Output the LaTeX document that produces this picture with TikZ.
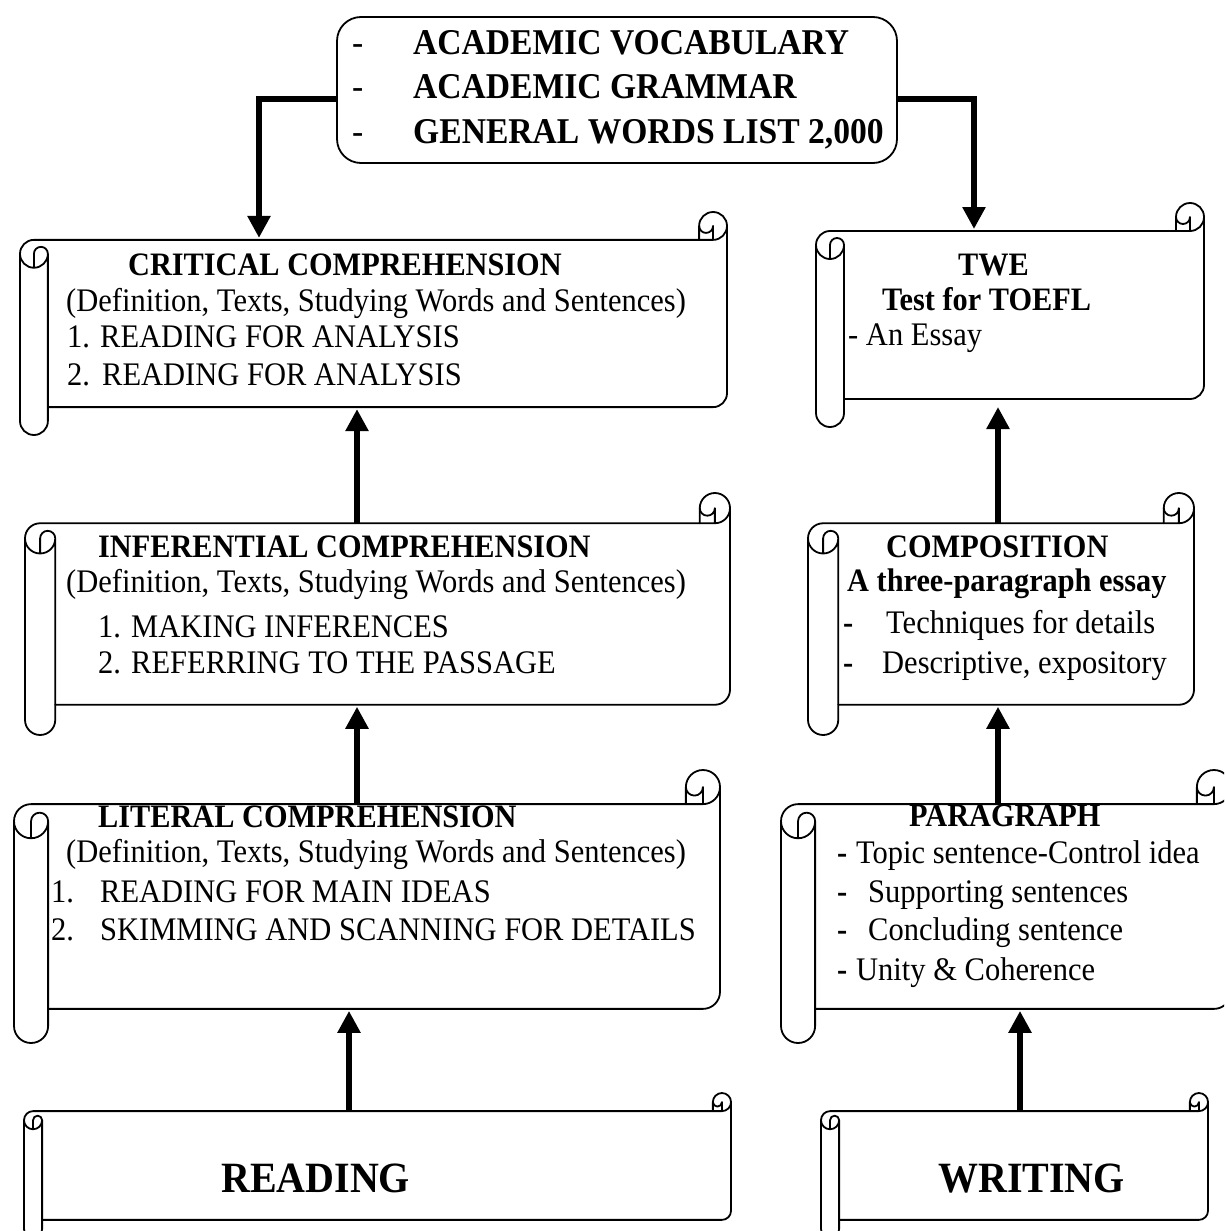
\documentclass[tikz,border=0pt]{standalone}
\usepackage{fontspec}
\setmainfont{Liberation Serif}
\usetikzlibrary{arrows.meta}

\newcommand\hscroll[5]{%
  \pgfmathsetmacro\scL{#2}%
  \pgfmathsetmacro\scT{#3}%
  \pgfmathsetmacro\scR{#4}%
  \pgfmathsetmacro\scB{#5}%
  \pgfmathsetmacro\scA{0.125*min(#4-#2,#5-#3)}%
  \pgfmathsetmacro\scH{\scA/2}%
  \pgfmathsetmacro\scQ{\scA/4}%
  \draw[scrollline, fill=white]
    ({\scL},{\scT+1.5*\scA}) arc[start angle=180,end angle=90,radius=\scH pt]
    -- ({\scR-\scA},{\scT+\scA}) -- ({\scR-\scA},{\scT+\scH})
    arc[start angle=180,end angle=0,radius=\scH pt]
    -- ({\scR},{\scB-1.5*\scA})
    arc[start angle=0,end angle=-90,radius=\scH pt]
    -- ({\scL+\scA},{\scB-\scA}) -- ({\scL+\scA},{\scB-\scH})
    arc[start angle=0,end angle=-180,radius=\scH pt]
    -- cycle;
  \draw[scrollline]
    ({\scR-\scA},{\scT+\scA}) -- ({\scR-\scH},{\scT+\scA})
    arc[start angle=-90,end angle=0,radius=\scH pt]
    ({\scR-\scH},{\scT+\scA}) -- ({\scR-\scH},{\scT+\scH})
    arc[start angle=0,end angle=-180,radius=\scQ pt]
    ({\scL+\scH},{\scT+2*\scA}) -- ({\scL+\scH},{\scT+1.5*\scA})
    arc[start angle=180,end angle=0,radius=\scQ pt]
    arc[start angle=0,end angle=-180,radius=\scH pt]
    ({\scL+\scA},{\scT+1.5*\scA}) -- ({\scL+\scA},{\scB-\scA});
  \node[inner sep=0pt, outer sep=0pt,
        minimum width={(\scR-\scL-\scA)*1pt},
        minimum height={(\scB-\scT-2*\scA)*1pt}]
        (#1) at ({(\scL+\scA+\scR)/2},{(\scT+\scB)/2}) {};
}

\begin{document}
\begin{tikzpicture}[x=1pt,y=-1pt,
  scrollline/.style={line width=1.8pt, line join=round},
  conn/.style={line width=6pt, -{Triangle[width=22pt,length=22pt]}, shorten >=2pt},
  tall/.style={inner sep=0pt, anchor=base west, yscale=1.08, transform shape},
  txt/.style={tall, font=\fontsize{30.5}{36}\selectfont},
  btxt/.style={tall, font=\fontsize{30.3}{36}\selectfont\bfseries},
  tbx/.style={tall, font=\fontsize{33.6}{40}\selectfont\bfseries},
  tdash/.style={tall, font=\fontsize{33.6}{40}\selectfont},
  bdash/.style={tall, font=\fontsize{30.5}{36}\selectfont\bfseries},
  big/.style={tall, font=\fontsize{40}{48}\selectfont\bfseries}]

\fill[white] (0,0) rectangle (1224,1231);
\useasboundingbox (0,0) rectangle (1224,1231);
\clip (0,0) rectangle (1224,1231);

% scrolls
\hscroll{crit}{20}{212}{727}{435}
\hscroll{twe}{816}{203}{1204}{427}
\hscroll{inf}{25}{493}{730}{735}
\hscroll{comp}{808}{493}{1194}{735}
\hscroll{lit}{14}{770}{720}{1043}
\hscroll{para}{781}{770}{1231}{1043}
\hscroll{read}{24}{1093}{731}{1238}
\hscroll{writ}{821}{1093}{1208}{1238}

% top box
\node[draw, line width=1.8pt, rounded corners=24pt, minimum width=560pt,
      minimum height=146pt, inner sep=0pt] (top) at (617,90) {};
\node[tdash] (d1) at (352,55) {-};
\node[tdash] (d2) at (352,98) {-};
\node[tdash] (d3) at (352,143) {-};
\node[tbx] (v1) at (413,55) {ACADEMIC VOCABULARY};
\node[tbx] (v2) at (413,98) {ACADEMIC GRAMMAR};
\node[tbx] (v3) at (413,143) {GENERAL WORDS LIST 2,000};

% connector x positions
\coordinate (xa) at (259,0);
\coordinate (xb) at (974,0);
\coordinate (xc) at (357,0);
\coordinate (xd) at (349,0);
\coordinate (xe) at (998,0);
\coordinate (xf) at (1020,0);

\draw[conn] ([yshift=-9pt]top.west) -| (crit.north -| xa);
\draw[conn] ([yshift=-9pt]top.east) -| (twe.north -| xb);
\draw[conn] (inf.north -| xc) -- (crit.south -| xc);
\draw[conn] (lit.north -| xc) -- (inf.south -| xc);
\draw[conn] (read.north -| xd) -- (lit.south -| xd);
\draw[conn, shorten >=8pt] (comp.north -| xe) -- (twe.south -| xe);
\draw[conn] (para.north -| xe) -- (comp.south -| xe);
\draw[conn] (writ.north -| xf) -- (para.south -| xf);

% critical
\node[btxt] (c0) at (128,275) {CRITICAL COMPREHENSION};
\node[txt] (c1) at (66,311) {(Definition, Texts, Studying Words and Sentences)};
\node[txt] (c2) at (67,347) {1. READING FOR ANALYSIS};
\node[txt] (c4) at (67,385) {2.};
\node[txt] (c5) at (102,385) {READING FOR ANALYSIS};

% TWE
\node[btxt] (w0) at (958,275) {TWE};
\node[btxt] (w1) at (882,310) {Test for TOEFL};
\node[txt] (w2) at (848,345) {- An Essay};

% inferential
\node[btxt] (i0) at (98,557) {INFERENTIAL COMPREHENSION};
\node[txt] (i1) at (66,592) {(Definition, Texts, Studying Words and Sentences)};
\node[txt] (i2) at (98,637) {1. MAKING INFERENCES};
\node[txt] (i3) at (98,673) {2. REFERRING TO THE PASSAGE};

% composition
\node[btxt] (p0) at (886,557) {COMPOSITION};
\node[btxt] (p1) at (847,591) {A three-paragraph essay};
\node[bdash] (p2) at (843,633) {-};
\node[txt] (p3) at (886,633) {Techniques for details};
\node[bdash] (p4) at (843,673) {-};
\node[txt] (p5) at (882,673) {Descriptive, expository};

% literal
\node[btxt] (l0) at (98,827) {LITERAL COMPREHENSION};
\node[txt] (l1) at (66,862) {(Definition, Texts, Studying Words and Sentences)};
\node[txt] (l2) at (51,902) {1.};
\node[txt] (l3) at (100,902) {READING FOR MAIN IDEAS};
\node[txt] (l4) at (51,940) {2.};
\node[txt] (l5) at (100,940) {SKIMMING AND SCANNING FOR DETAILS};

% paragraph
\node[btxt] (g0) at (909,826) {PARAGRAPH};
\node[bdash] (g1) at (837,863) {-};
\node[txt] (g2) at (856,863) {Topic sentence-Control idea};
\node[bdash] (g3) at (837,902) {-};
\node[txt] (g4) at (868,902) {Supporting sentences};
\node[bdash] (g5) at (837,940) {-};
\node[txt] (g6) at (868,940) {Concluding sentence};
\node[bdash] (g7) at (837,980) {-};
\node[txt] (g8) at (856,980) {Unity \& Coherence};

% reading / writing
\node[big] (r0) at (221,1192) {READING};
\node[big] (r1) at (938,1192) {WRITING};
\end{tikzpicture}
\end{document}
